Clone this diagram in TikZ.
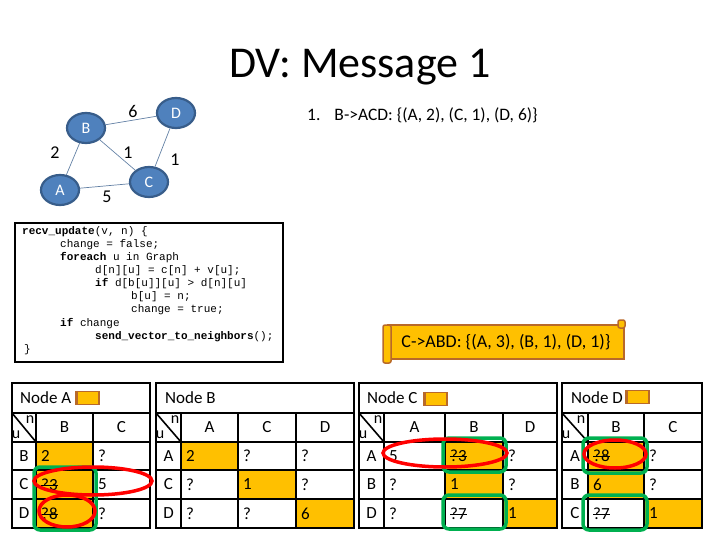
\documentclass[tikz,border=0pt]{standalone}
\usepackage{fontspec}
\setmainfont{Carlito}
\newfontfamily\codefont{Liberation Mono}
\usetikzlibrary{positioning,shapes.geometric}

\definecolor{slot}{HTML}{FFC000}
\definecolor{pathgreen}{HTML}{00B050}
\definecolor{nodeblue}{HTML}{4F81BD}
\definecolor{nodeedge}{HTML}{385D8A}
\definecolor{msgbrown}{HTML}{B8692A}

% struck-through table entry
\newcommand{\crossout}[1]{\setbox0\hbox{#1}\rlap{\raisebox{0.28em}{\rule{\wd0}{0.7pt}}}\box0}

\tikzset{
  router/.style={ellipse, fill=nodeblue, draw=nodeedge, line width=2.2pt,
    minimum width=38pt, minimum height=30pt, inner sep=0pt, text=white,
    font=\fontsize{16}{16}\selectfont},
  link/.style={draw=nodeblue!60!gray, line width=0.7pt},
  cost/.style={inner sep=0pt, font=\fontsize{18}{18}\selectfont},
  tblline/.style={line width=1.6pt},
  cell/.style={anchor=west, inner sep=0pt, font=\fontsize{17}{17}\selectfont},
  ctr/.style={inner sep=0pt, font=\fontsize{17}{17}\selectfont},
  corner/.style={inner sep=0pt, font=\fontsize{16}{16}\selectfont},
  bestpath/.style={draw=pathgreen, line width=3.5pt, rounded corners=6pt},
  changed/.style={draw=red, line width=3.5pt},
  msg/.style={fill=slot, draw=msgbrown, line width=1.5pt},
  msgicon/.style={msg, minimum width=22pt, minimum height=13pt, inner sep=0pt},
  code/.style={anchor=west, inner sep=0pt, font=\codefont\fontsize{11}{11}\selectfont}
}

\begin{document}
\begin{tikzpicture}[x=1pt, y=-1pt]
\useasboundingbox (0,0) rectangle (720,540);

% title
\node[font=\fontsize{44}{44}\selectfont] (title) at (360,67) {DV: Message 1};

% network
\node[router] (B) at (86,128) {B};
\node[router] (D) at (176,113) {D};
\node[router] (A) at (60,190) {A};
\node[router] (C) at (149,182) {C};
\draw[link] (A) -- (B);
\draw[link] (B) -- (D);
\draw[link] (B) -- (C);
\draw[link] (D) -- (C);
\draw[link] (A) -- (C);
\node[cost] (cBD) at (133,111) {6};
\node[cost] (cAB) at (55,153) {2};
\node[cost] (cBC) at (128,153) {1};
\node[cost] (cCD) at (175,160) {1};
\node[cost] (cAC) at (107,197) {5};

% messages
\node[anchor=west, inner sep=0pt, font=\fontsize{17.5}{17.5}\selectfont] (msgone) at (307,115)
  {1.\hspace{14pt}B->ACD: \{(A, 2), (C, 1), (D, 6)\}};
\node[msg, minimum width=236pt, minimum height=34pt, inner sep=0pt,
  font=\fontsize{18}{18}\selectfont] (cmsg) at (506,342) {C->ABD: \{(A, 3), (B, 1), (D, 1)\}};
\draw[msg, rounded corners=2pt] (383,325) rectangle (391,363);
\draw[msg, rounded corners=2pt] (618,320) rectangle (625,328);

% pseudocode
\draw[line width=2.5pt] (15,223) rectangle (283,362);
\node[code] (l1) at (22,232) {\textbf{recv\_update}(v, n) \{};
\node[code] (l2) at (60,245) {change = false;};
\node[code] (l3) at (60,258) {\textbf{foreach} u in Graph};
\node[code] (l4) at (95,271) {d[n][u] = c[n] + v[u];};
\node[code] (l5) at (95,284) {\textbf{if} d[b[u]][u] > d[n][u]};
\node[code] (l6) at (131,297) {b[u] = n;};
\node[code] (l7) at (131,310) {change = true;};
\node[code] (l8) at (60,324) {\textbf{if} change};
\node[code] (l9) at (95,337) {\textbf{send\_vector\_to\_neighbors}();};
\node[code] (l10) at (24,350) {\}};

% Node A table
\fill[slot] (36,442) rectangle (93,528);
\draw[tblline] (12,383) rectangle (150,528);
\foreach \y in {413,442,470,499} \draw[tblline] (12,\y) -- (150,\y);
\foreach \x in {36,93} \draw[tblline] (\x,413) -- (\x,528);
\draw[tblline] (12,413) -- (36,442);
\node[cell] (aT) at (20,398) {Node A};
\node[msgicon] (aM) at (88,398) {};
\draw[msgbrown, line width=3pt] (aM.north west) -- (aM.south west);
\node[corner] (aN) at (30,420) {n};
\node[corner] (aU) at (16,435) {u};
\node[ctr] (aHB) at (64.5,427) {B};
\node[ctr] (aHC) at (121.5,427) {C};
\node[ctr] (aRB) at (24,456) {B};
\node[ctr] (aRC) at (24,484.5) {C};
\node[ctr] (aRD) at (24,513.5) {D};
\node[cell] (aBB) at (41,456) {2};
\node[cell] (aBC) at (98,456) {?};
\node[cell] (aCB) at (41,484.5) {\crossout{?3}};
\node[cell] (aCC) at (98,484.5) {5};
\node[cell] (aDB) at (41,513.5) {\crossout{?8}};
\node[cell] (aDC) at (98,513.5) {?};
\draw[bestpath] (34,467) rectangle (96,530);
\draw[changed] (93,481) ellipse (59pt and 14pt);
\draw[changed] (67,511) ellipse (28pt and 16pt);

% Node B table
\fill[slot] (181,442) rectangle (238,470);
\fill[slot] (238,470) rectangle (296,499);
\fill[slot] (296,499) rectangle (354,528);
\draw[tblline] (156,383) rectangle (354,528);
\foreach \y in {413,442,470,499} \draw[tblline] (156,\y) -- (354,\y);
\foreach \x in {181,238,296} \draw[tblline] (\x,413) -- (\x,528);
\draw[tblline] (156,413) -- (181,442);
\node[cell] (bT) at (165,398) {Node B};
\node[corner] (bN) at (175,420) {n};
\node[corner] (bU) at (160,435) {u};
\node[ctr] (bHA) at (209.5,427) {A};
\node[ctr] (bHC) at (267,427) {C};
\node[ctr] (bHD) at (325,427) {D};
\node[ctr] (bRA) at (168.5,456) {A};
\node[ctr] (bRC) at (168.5,484.5) {C};
\node[ctr] (bRD) at (168.5,513.5) {D};
\node[cell] (bAA) at (186,456) {2};
\node[cell] (bAC) at (243,456) {?};
\node[cell] (bAD) at (301,456) {?};
\node[cell] (bCA) at (186,484.5) {?};
\node[cell] (bCC) at (243,484.5) {1};
\node[cell] (bCD) at (301,484.5) {?};
\node[cell] (bDA) at (186,513.5) {?};
\node[cell] (bDC) at (243,513.5) {?};
\node[cell] (bDD) at (301,513.5) {6};

% Node C table
\fill[slot] (445,442) rectangle (503,499);
\fill[slot] (503,499) rectangle (557,528);
\draw[tblline] (359,383) rectangle (557,528);
\foreach \y in {413,442,470,499} \draw[tblline] (359,\y) -- (557,\y);
\foreach \x in {384,445,503} \draw[tblline] (\x,413) -- (\x,528);
\draw[tblline] (359,413) -- (384,442);
\node[cell] (cT) at (367,398) {Node C};
\node[msgicon] (cM) at (436,399) {};
\draw[msgbrown, line width=3pt] (cM.north west) -- (cM.south west);
\node[corner] (cN) at (378,420) {n};
\node[corner] (cU) at (363,435) {u};
\node[ctr] (cHA) at (414.5,427) {A};
\node[ctr] (cHB) at (474,427) {B};
\node[ctr] (cHD) at (530,427) {D};
\node[ctr] (cRA) at (371.5,456) {A};
\node[ctr] (cRB) at (371.5,484.5) {B};
\node[ctr] (cRD) at (371.5,513.5) {D};
\node[cell] (cAA) at (389,456) {5};
\node[cell] (cAB) at (450,456) {\crossout{?3}};
\node[cell] (cAD) at (508,456) {?};
\node[cell] (cBA) at (389,484.5) {?};
\node[cell] (cBB) at (450,484.5) {1};
\node[cell] (cBD) at (508,484.5) {?};
\node[cell] (cDA) at (389,513.5) {?};
\node[cell] (cDB) at (450,513.5) {\crossout{?7}};
\node[cell] (cDD) at (508,513.5) {1};
\draw[bestpath] (443,438) rectangle (506,472);
\draw[bestpath] (443,495) rectangle (506,529);
\draw[changed] (445,453) ellipse (62pt and 14pt);

% Node D table
\fill[slot] (588,442) rectangle (644,499);
\fill[slot] (644,499) rectangle (702,528);
\draw[tblline] (562,383) rectangle (702,528);
\foreach \y in {413,442,470,499} \draw[tblline] (562,\y) -- (702,\y);
\foreach \x in {588,644} \draw[tblline] (\x,413) -- (\x,528);
\draw[tblline] (562,413) -- (588,442);
\node[cell] (dT) at (571,398) {Node D};
\node[msgicon] (dM) at (638,397) {};
\draw[msgbrown, line width=3pt] (dM.north west) -- (dM.south west);
\node[corner] (dN) at (581,420) {n};
\node[corner] (dU) at (566,435) {u};
\node[ctr] (dHB) at (616,427) {B};
\node[ctr] (dHC) at (673,427) {C};
\node[ctr] (dRA) at (575,456) {A};
\node[ctr] (dRB) at (575,484.5) {B};
\node[ctr] (dRC) at (575,513.5) {C};
\node[cell] (dAB) at (593,456) {\crossout{?8}};
\node[cell] (dAC) at (649,456) {?};
\node[cell] (dBB) at (593,484.5) {6};
\node[cell] (dBC) at (649,484.5) {?};
\node[cell] (dCB) at (593,513.5) {\crossout{?7}};
\node[cell] (dCC) at (649,513.5) {1};
\draw[bestpath] (583,438) rectangle (647,473);
\draw[bestpath] (583,495) rectangle (647,530);
\draw[changed] (615,454) ellipse (31pt and 14pt);

\end{tikzpicture}
\end{document}
